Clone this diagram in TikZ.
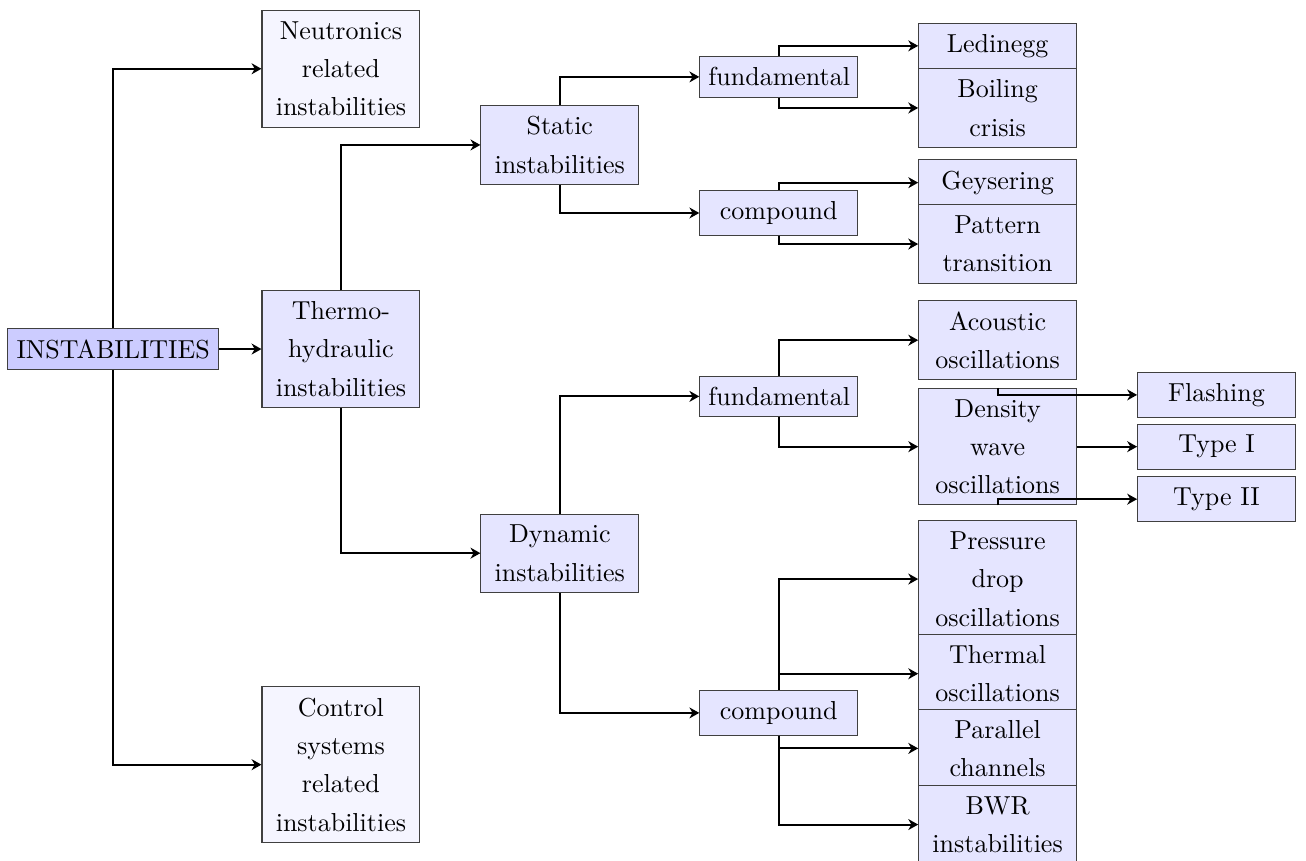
\documentclass[tikz,border=0pt]{standalone}
\usepackage{tikz}
\usetikzlibrary{arrows.meta}

\tikzset{
    base/.style={draw=black!75, align=center, inner xsep=3.33pt, inner ysep=4.2pt,
                 font=\fontsize{10}{14.75}\selectfont},
    rootbox/.style={base, fill=blue!20},
    box/.style={base, fill=blue!10, text width=1.9cm},
    outerbox/.style={base, fill=blue!4, text width=1.9cm},
    link/.style={thick, -{Stealth[length=3.8pt, width=4.2pt, inset=1.2pt]}}
}

\begin{document}
\begin{tikzpicture}
            \useasboundingbox (-1.53, 4.72) rectangle (16.13, -6.91);

            \node[rootbox] (inst) at (0, 0) {INSTABILITIES};

            \node[outerbox] (neut) at (3.08, 3.79) {Neutronics\\related\\instabilities};
            \node[box] (thermo) at (3.08, 0) {Thermo-\\hydraulic\\instabilities};
            \node[outerbox] (control) at (3.08, -5.62) {Control\\systems\\related\\instabilities};

            \node[box] (static) at (6.04, 2.76) {Static\\instabilities};
            \node[box] (dynamic) at (6.04, -2.76) {Dynamic\\instabilities};

            \node[box] (sfund) at (9.00, 3.68) {fundamental};
            \node[box] (scomp) at (9.00, 1.84) {compound};
            \node[box] (dfund) at (9.00, -0.64) {fundamental};
            \node[box] (dcomp) at (9.00, -4.92) {compound};

            \node[box] (ledinegg) at (11.96, 4.10) {Ledinegg};
            \node[box] (boiling) at (11.96, 3.26) {Boiling\\crisis};
            \node[box] (geyser) at (11.96, 2.25) {Geysering};
            \node[box] (pattern) at (11.96, 1.42) {Pattern\\transition};
            \node[box] (acoustic) at (11.96, 0.12) {Acoustic\\oscillations};
            \node[box] (density) at (11.96, -1.32) {Density\\wave\\oscillations};
            \node[box] (pressure) at (11.96, -3.11) {Pressure\\drop\\oscillations};
            \node[box] (thermal) at (11.96, -4.39) {Thermal\\oscillations};
            \node[box] (parallel) at (11.96, -5.40) {Parallel\\channels};
            \node[box] (bwr) at (11.96, -6.43) {BWR\\instabilities};

            \node[box] (flashing) at (14.92, -0.62) {Flashing};
            \node[box] (typeone) at (14.92, -1.32) {Type I};
            \node[box] (typetwo) at (14.92, -2.03) {Type II};

            % first level
            \draw[link] (inst.north) |- (neut.west);
            \draw[link] (inst) -- (thermo);
            \draw[link] (inst.south) |- (control.west);

            \draw[link] (thermo.north) |- (static.west);
            \draw[link] (thermo.south) |- (dynamic.west);

            \draw[link] (static.north) |- (sfund.west);
            \draw[link] (static.south) |- (scomp.west);
            \draw[link] (dynamic.north) |- (dfund.west);
            \draw[link] (dynamic.south) |- (dcomp.west);

            % leaves
            \draw[link] (sfund.north) |- (ledinegg.west);
            \draw[link] (sfund.south) |- (boiling.west);
            \draw[link] (scomp.north) |- (geyser.west);
            \draw[link] (scomp.south) |- (pattern.west);
            \draw[link] (dfund.north) |- (acoustic.west);
            \draw[link] (dfund.south) |- (density.west);
            \draw[link] (dcomp.north) |- (pressure.west);
            \draw[link] (dcomp.north) |- (thermal.west);
            \draw[link] (dcomp.south) |- (parallel.west);
            \draw[link] (dcomp.south) |- (bwr.west);

            \draw[link] (density.north) |- (flashing.west);
            \draw[link] (density) -- (typeone);
            \draw[link] (density.south) |- (typetwo.west);
        \end{tikzpicture}
\end{document}
